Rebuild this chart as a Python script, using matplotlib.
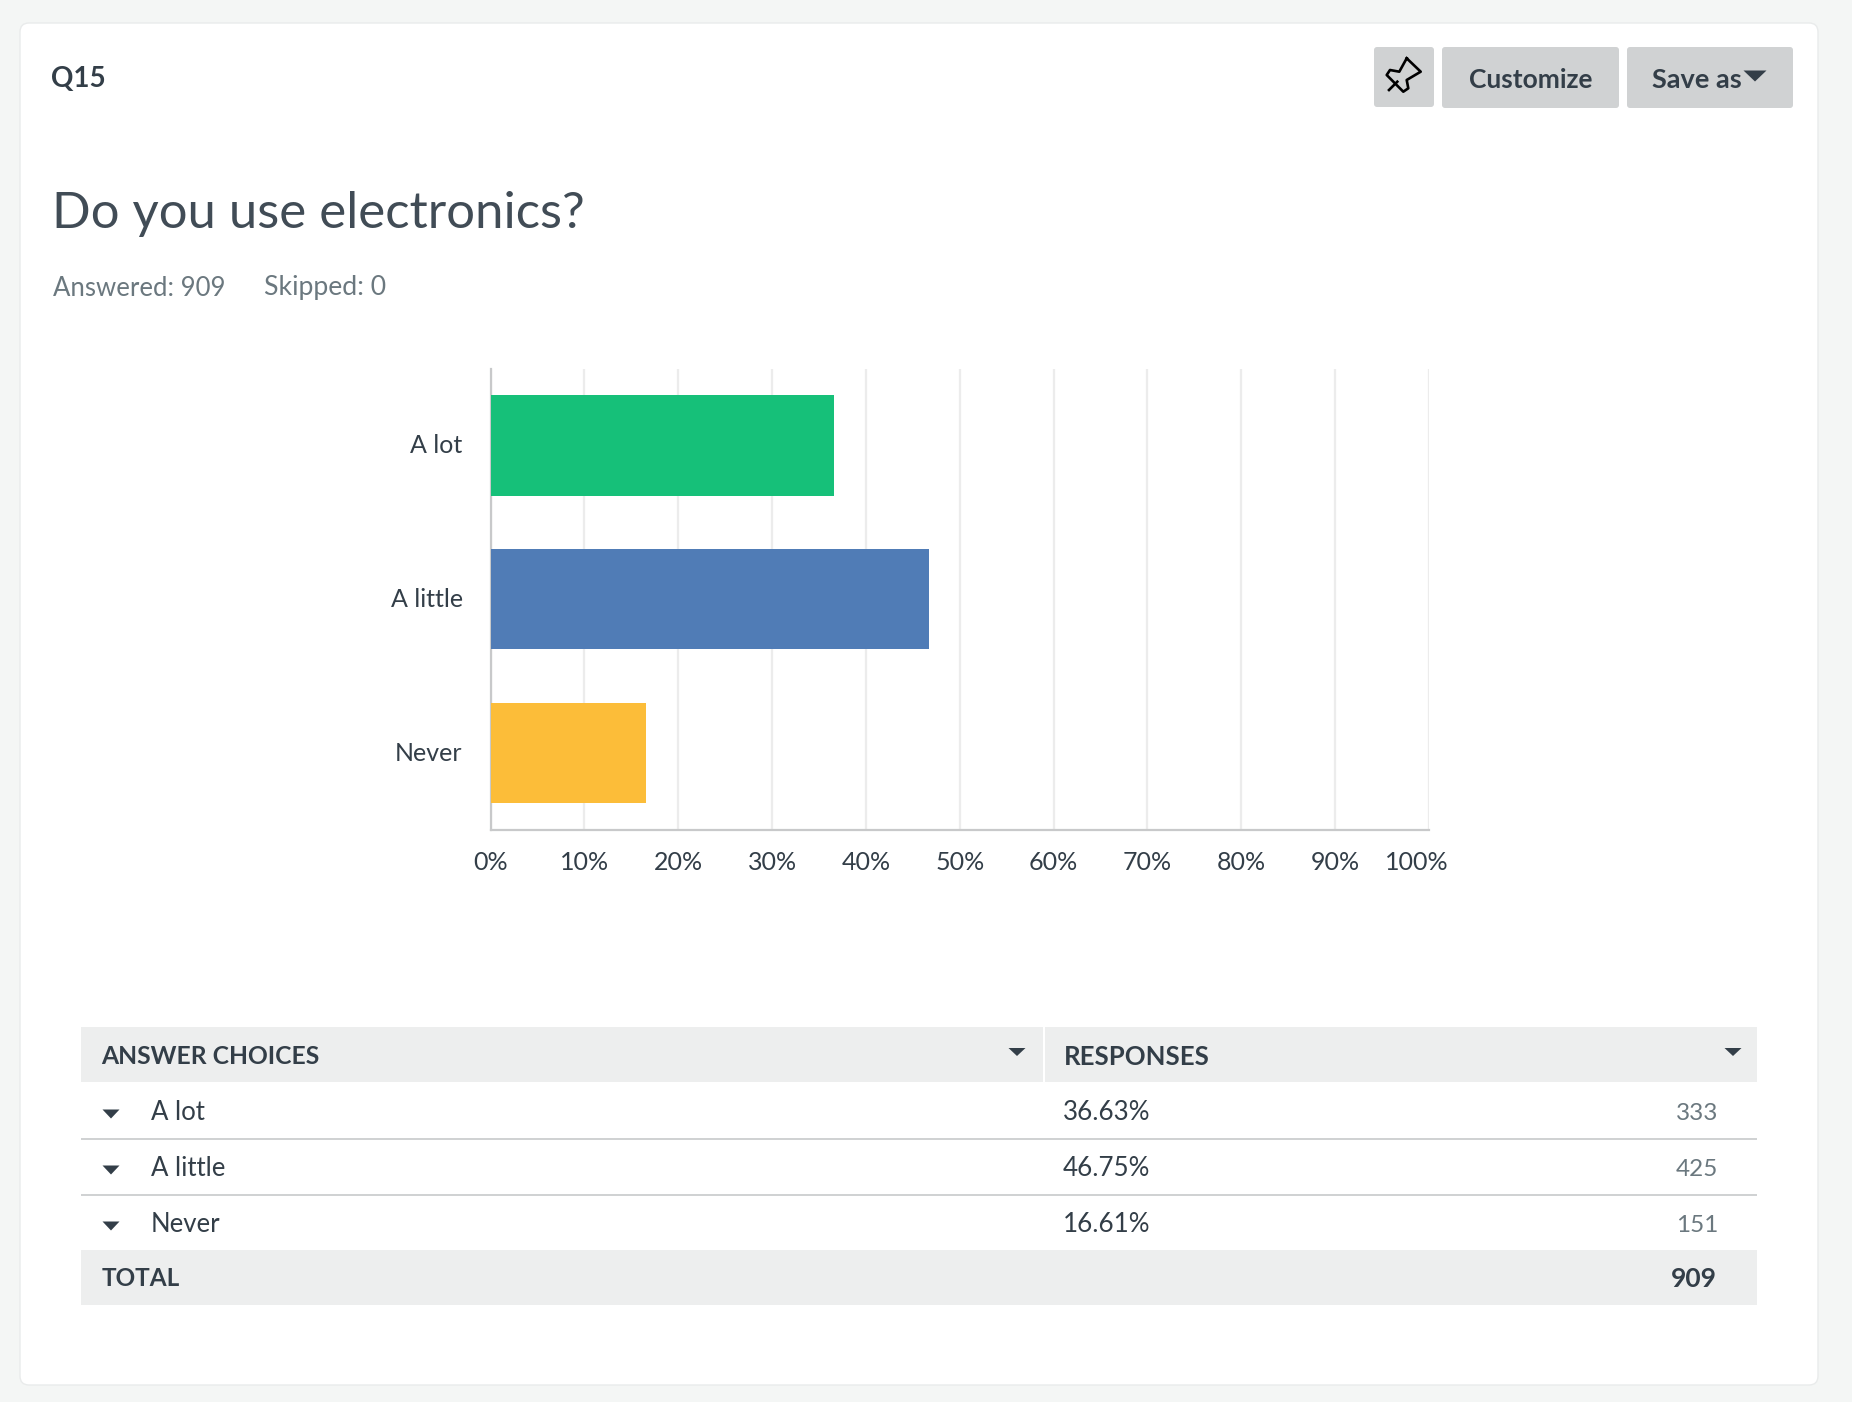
"""SurveyMonkey style question card: Q15, horizontal bars and response table."""
import matplotlib
matplotlib.use("Agg")
import matplotlib.pyplot as plt
from matplotlib.patches import FancyBboxPatch, Rectangle, Polygon
from matplotlib.transforms import ScaledTranslation

W, H = 1852, 1402

choices = ["A lot", "A little", "Never"]
percents = [36.63, 46.75, 16.61]
counts = [333, 425, 151]
total = 909
skipped = 0
tick_vals = [0, 10, 20, 30, 40, 50, 60, 70, 80, 90, 100]
bar_colors = ["#16c079", "#507cb6", "#fcbd39"]

TEXT = "#333e48"
MUTED = "#6b787f"
BAND = "#edeeee"
BTN = "#d0d2d3"
FONT = "Lato"

plt.rcParams["font.family"] = [FONT, "DejaVu Sans"]
fig = plt.figure(figsize=(W / 100, H / 100), dpi=100, facecolor="#f4f6f5")

# page overlay in pixel coordinates
ui = fig.add_axes([0, 0, 1, 1])
ui.set_xlim(0, W)
ui.set_ylim(H, 0)
ui.axis("off")


def box(x0, y0, x1, y1, color, r=3, edge="none", z=1):
    ui.add_patch(FancyBboxPatch((x0 + r, y0 + r), x1 - x0 - 2 * r, y1 - y0 - 2 * r,
                                boxstyle=f"round,pad={r},rounding_size={r}",
                                fc=color, ec=edge, lw=1, zorder=z))


def rect(x0, y0, x1, y1, color):
    ui.add_patch(Rectangle((x0, y0), x1 - x0, y1 - y0, fc=color, ec="none", zorder=2))


def arrow(xc, yc, w, h, color=TEXT):
    ui.add_patch(Polygon([(xc - w / 2, yc - h / 2), (xc + w / 2, yc - h / 2), (xc, yc + h / 2)],
                         closed=True, fc=color, ec="none", zorder=4))


def label(x, y, s, size=20, weight="normal", color=TEXT, ha="left"):
    ui.text(x, y, s, fontsize=size, fontweight=weight, color=color, ha=ha, va="center", zorder=5)


box(20, 23, 1818, 1385, "white", r=9, edge="#e9ebeb")

label(51, 79, "Q15", 20, "bold")
label(52, 214, "Do you use electronics?", 36.6, "normal", "#414c56")
label(53, 288, f"Answered: {total}", 18.5, color=MUTED)
label(264, 288, f"Skipped: {skipped}", 19.2, color=MUTED)

# buttons
box(1374, 47, 1434, 107, BTN)
box(1442, 47, 1619, 108, BTN)
box(1627, 47, 1793, 108, BTN)
label(1531, 80, "Customize", 19, "bold", ha="center")
label(1652, 80, "Save as", 19.5, "bold")
arrow(1755, 76, 23, 11)

# pin icon
pin_x = [1406.7, 1420.7, 1406.7, 1408.3, 1403.3, 1386.7, 1390, 1399.3, 1406.7]
pin_y = [58.3, 71.7, 80, 88.3, 91.7, 75, 70, 71.7, 58.3]
ui.plot(pin_x, pin_y, color="black", lw=1.9, solid_joinstyle="round", zorder=5)
ui.plot([1389, 1397.3], [90, 81.7], color="black", lw=1.9, zorder=5)

# bar chart
ax = fig.add_axes([490.5 / W, 1 - 830 / H, (1429 - 490.5) / W, (830 - 368.5) / H])
ax.patch.set_alpha(0)
ypos = range(len(choices))
ax.barh(ypos, percents, height=0.652, color=bar_colors, zorder=3)
ax.set_xlim(0, 100)
ax.set_ylim(len(choices) - 0.5, -0.5)
ax.set_yticks(list(ypos), choices)
ax.set_xticks(tick_vals, [f"{t}%" for t in tick_vals])
ax.grid(axis="x", color="#ececec", lw=1.6, zorder=0)
ax.set_axisbelow(True)
ax.tick_params(length=0, labelsize=18, labelcolor=TEXT)
ax.tick_params(axis="x", pad=15)
ax.tick_params(axis="y", pad=20)
for side in ["top", "right"]:
    ax.spines[side].set_visible(False)
for side in ["left", "bottom"]:
    ax.spines[side].set_color("#c8c9ca")
    ax.spines[side].set_linewidth(1.6)
# last tick label sits inside the plot edge
last = ax.get_xticklabels()[-1]
last.set_transform(last.get_transform() + ScaledTranslation(-12 / 100, 0, fig.dpi_scale_trans))
# category labels sit a little above the bar centres
for tick in ax.get_yticklabels():
    tick.set_transform(tick.get_transform() + ScaledTranslation(0, 1.5 / 100, fig.dpi_scale_trans))

# response table
rect(81, 1027, 1043, 1082, BAND)
rect(1045, 1027, 1757, 1082, BAND)
rect(81, 1250, 1757, 1305, BAND)
rect(81, 1138, 1757, 1140, "#d0d2d3")
rect(81, 1194, 1757, 1196, "#d0d2d3")
label(101, 1057, "ANSWER CHOICES", 17.7, "bold")
label(1064, 1057, "RESPONSES", 18.5, "bold")
arrow(1017, 1052, 17, 8)
arrow(1733, 1052, 17, 8)
row_y = [1113, 1169, 1225]
for y, name, pct, n in zip(row_y, choices, percents, counts):
    arrow(111, y + 1, 17, 9)
    label(151, y, name, 18.5)
    label(1063, y, f"{pct:.2f}%", 18.7)
    label(1718, y, str(n), 17.5, color=MUTED, ha="right")
label(102, 1279, "TOTAL", 17.5, "bold")
label(1717, 1279, str(total), 19, "bold", ha="right")

fig.savefig("out.png", dpi=100, facecolor=fig.get_facecolor())
